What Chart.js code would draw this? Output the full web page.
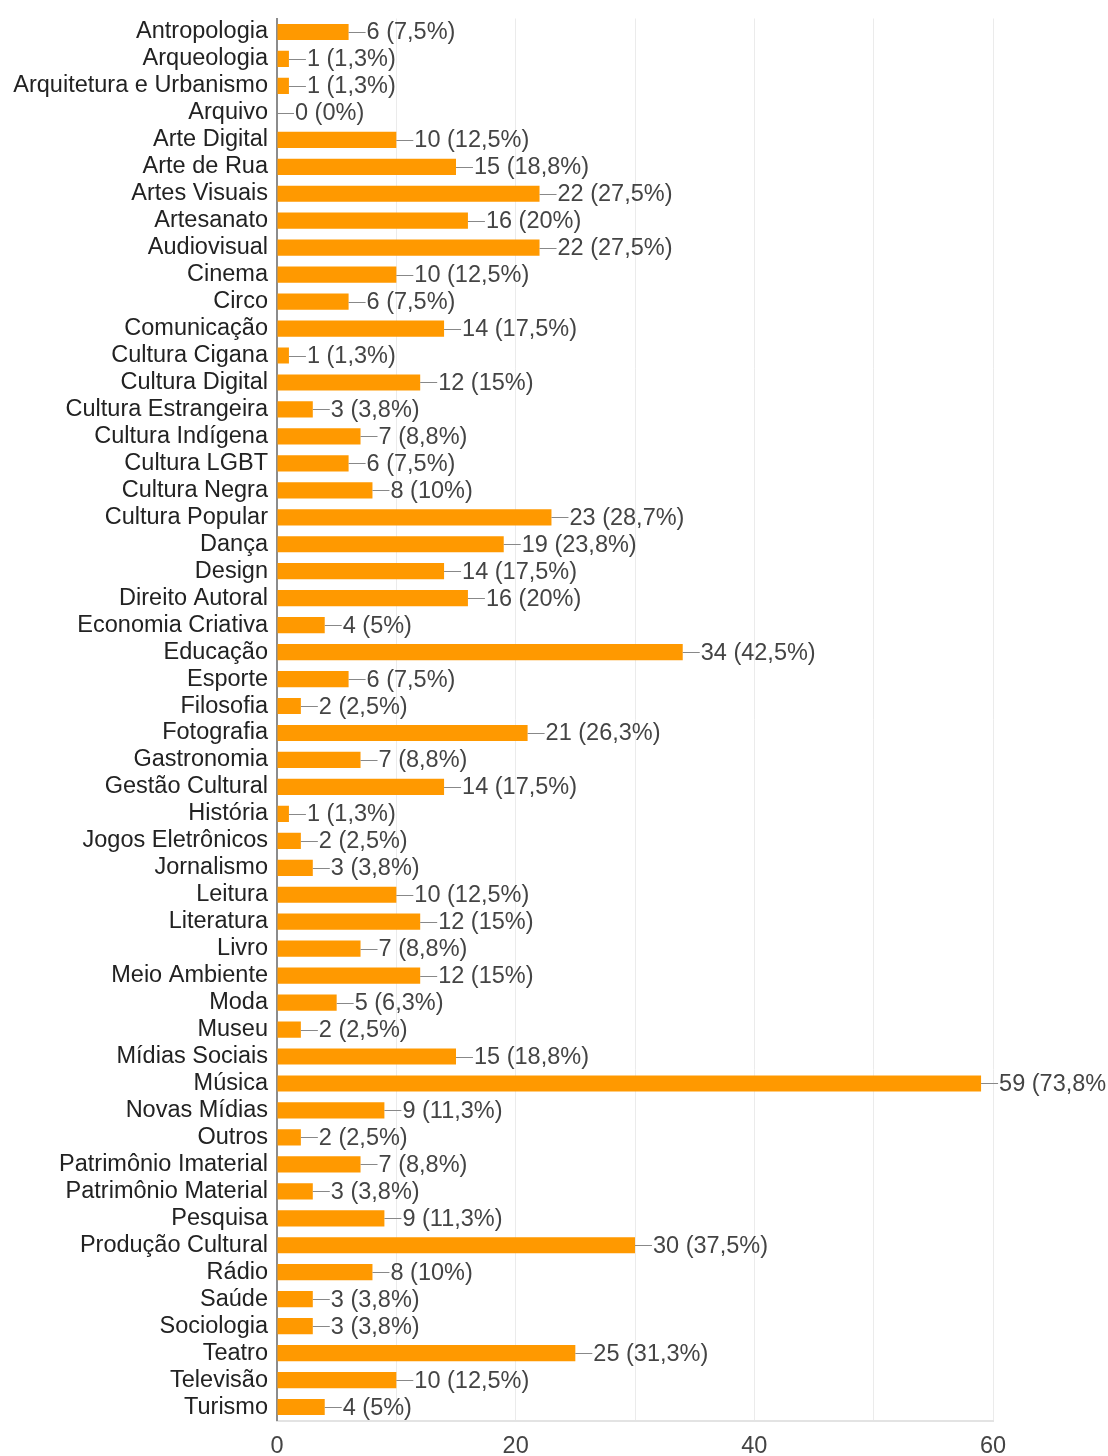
<!DOCTYPE html>
<html>
<head>
<meta charset="utf-8">
<script src="https://cdn.jsdelivr.net/npm/chart.js@4/dist/chart.umd.min.js"></script>
<style>
  html, body { margin: 0; padding: 0; background: #fff; }
  #wrap { width: 1108px; height: 1456px; }
</style>
</head>
<body>
<div id="wrap"><canvas id="myChart" width="1108" height="1456"></canvas></div>
<script>
var categories = [
  'Antropologia', 'Arqueologia', 'Arquitetura e Urbanismo', 'Arquivo', 'Arte Digital',
  'Arte de Rua', 'Artes Visuais', 'Artesanato', 'Audiovisual', 'Cinema', 'Circo',
  'Comunicação', 'Cultura Cigana', 'Cultura Digital', 'Cultura Estrangeira',
  'Cultura Indígena', 'Cultura LGBT', 'Cultura Negra', 'Cultura Popular', 'Dança',
  'Design', 'Direito Autoral', 'Economia Criativa', 'Educação', 'Esporte', 'Filosofia',
  'Fotografia', 'Gastronomia', 'Gestão Cultural', 'História', 'Jogos Eletrônicos',
  'Jornalismo', 'Leitura', 'Literatura', 'Livro', 'Meio Ambiente', 'Moda', 'Museu',
  'Mídias Sociais', 'Música', 'Novas Mídias', 'Outros', 'Patrimônio Imaterial',
  'Patrimônio Material', 'Pesquisa', 'Produção Cultural', 'Rádio', 'Saúde',
  'Sociologia', 'Teatro', 'Televisão', 'Turismo'
];
var counts = [
  6, 1, 1, 0, 10, 15, 22, 16, 22, 10, 6, 14, 1, 12, 3, 7, 6, 8, 23, 19,
  14, 16, 4, 34, 6, 2, 21, 7, 14, 1, 2, 3, 10, 12, 7, 12, 5, 2, 15, 59,
  9, 2, 7, 3, 9, 30, 8, 3, 3, 25, 10, 4
];
var percents = [
  7.5, 1.3, 1.3, 0, 12.5, 18.8, 27.5, 20, 27.5, 12.5, 7.5, 17.5, 1.3, 15, 3.8, 8.8, 7.5, 10, 28.7, 23.8,
  17.5, 20, 5, 42.5, 7.5, 2.5, 26.3, 8.8, 17.5, 1.3, 2.5, 3.8, 12.5, 15, 8.8, 15, 6.3, 2.5, 18.8, 73.8,
  11.3, 2.5, 8.8, 3.8, 11.3, 37.5, 10, 3.8, 3.8, 31.3, 12.5, 5
];
var xTicks = [0, 20, 40, 60];

var FONT = '"Liberation Sans", Arial, sans-serif';

// leader line + "n (p%)" after each bar
var valueLabels = {
  id: 'valueLabels',
  afterDatasetsDraw: function(chart) {
    var ctx = chart.ctx;
    var meta = chart.getDatasetMeta(0);
    ctx.save();
    ctx.font = '23.5px ' + FONT;
    ctx.textBaseline = 'middle';
    ctx.textAlign = 'left';
    meta.data.forEach(function(bar, i) {
      var x = bar.x, y = bar.y;
      ctx.strokeStyle = '#888';
      ctx.lineWidth = 1;
      ctx.beginPath();
      ctx.moveTo(x, Math.round(y) + 0.5);
      ctx.lineTo(x + 17, Math.round(y) + 0.5);
      ctx.stroke();
      ctx.fillStyle = '#444';
      var p = String(percents[i]).replace('.', ',');
      ctx.fillText(counts[i] + ' (' + p + '%', x + 18, y + 1);
      var w = ctx.measureText(counts[i] + ' (' + p + '%').width;
      if (x + 18 + w < 1100) ctx.fillText(')', x + 18 + w, y + 1);
    });
    ctx.restore();
  }
};

var canvas = document.getElementById('myChart');
var ctx = canvas.getContext('2d');

var myChart = new Chart(ctx, {
  type: 'bar',
  data: {
    labels: categories,
    datasets: [{
      data: counts,
      backgroundColor: '#ff9900',
      borderWidth: 0,
      categoryPercentage: 1,
      barPercentage: 0.6
    }]
  },
  options: {
    indexAxis: 'y',
    responsive: false,
    animation: false,
    layout: { padding: { top: 18.5, right: 115, left: 0, bottom: 0 } },
    plugins: {
      legend: { display: false },
      tooltip: { enabled: false }
    },
    scales: {
      x: {
        min: 0,
        max: 60,
        afterFit: function(scale) { scale.height = 35.5; },
        ticks: {
          stepSize: 10,
          padding: 12,
          color: '#444',
          font: { family: FONT, size: 23.5 },
          maxRotation: 0,
          callback: function(v) { return xTicks.indexOf(v) >= 0 ? String(v) : ''; }
        },
        grid: {
          drawTicks: false,
          color: function(c) { return c.tick && c.tick.value === 0 ? 'rgba(0,0,0,0)' : '#ebebeb'; }
        },
        border: { color: '#e3e3e3', width: 2 }
      },
      y: {
        z: 1,
        afterFit: function(scale) {
          scale.width = 277;
          scale.paddingTop = 0;
          scale.paddingBottom = 0;
        },
        ticks: {
          padding: 9,
          color: '#222',
          font: { family: FONT, size: 23.5 },
          autoSkip: false
        },
        grid: { display: false, drawTicks: false },
        border: { color: '#8c8c8c', width: 2 }
      }
    }
  },
  plugins: [valueLabels]
});
</script>
</body>
</html>
